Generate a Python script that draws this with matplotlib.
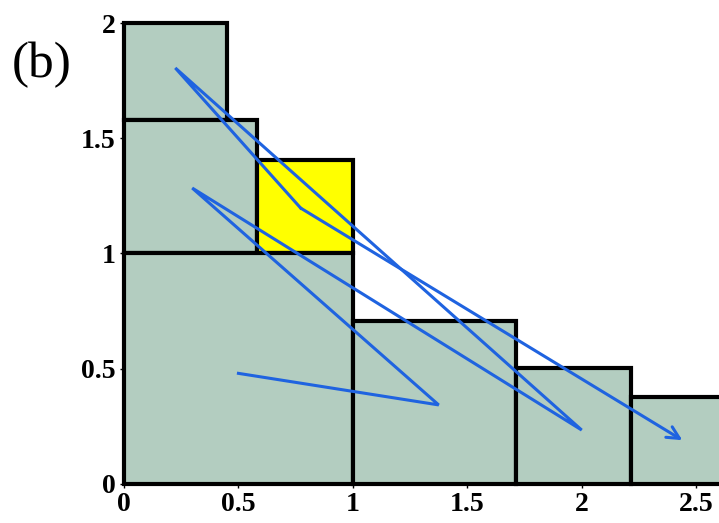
import matplotlib
matplotlib.use('Agg')
import matplotlib.pyplot as plt
from matplotlib.patches import Rectangle

# boxes: (x0, y0, width, height, colour)
box_x = [0.0, 0.0, 0.583, 0.0, 1.0, 1.715, 2.215]
box_y = [1.58, 1.0, 1.0, 0.0, 0.0, 0.0, 0.0]
box_w = [0.45, 0.583, 0.417, 1.0, 0.715, 0.5, 0.4]
box_h = [0.42, 0.58, 0.405, 1.0, 0.705, 0.503, 0.377]
box_c = ['#b3cdc0', '#b3cdc0', '#ffff00', '#b3cdc0', '#b3cdc0', '#b3cdc0', '#b3cdc0']

# blue path
path_x = [0.5, 1.375, 0.298, 2.0, 0.224, 0.772, 2.44]
path_y = [0.48, 0.343, 1.284, 0.234, 1.805, 1.197, 0.19]

xticks = [0, 0.5, 1, 1.5, 2, 2.5]
yticks = [0, 0.5, 1, 1.5, 2]

fig = plt.figure(figsize=(7.19, 5.23), dpi=100)
ax = fig.add_axes([0.1725, 0.0746, 0.8275, 0.8814])

for x0, y0, w, h, c in zip(box_x, box_y, box_w, box_h, box_c):
    ax.add_patch(Rectangle((x0, y0), w, h, facecolor=c, edgecolor='black',
                           linewidth=3, clip_on=False))

blue = '#1f63e0'
ax.plot(path_x[:-1], path_y[:-1], color=blue, lw=2.2, solid_joinstyle='miter', clip_on=False)
ax.annotate('', xy=(path_x[-1], path_y[-1]), xytext=(path_x[-2], path_y[-2]),
            arrowprops=dict(arrowstyle='->', color=blue, lw=2.2, mutation_scale=22,
                            shrinkA=0, shrinkB=0))

ax.set_xlim(0, 2.6)
ax.set_ylim(0, 2.0)
for s in ax.spines.values():
    s.set_visible(False)
ax.set_xticks(xticks)
ax.set_xticklabels(['0', '0.5', '1', '1.5', '2', '2.5'])
ax.set_yticks(yticks)
ax.set_yticklabels(['0', '0.5', '1', '1.5', '2'])
ax.tick_params(axis='both', length=3, width=1, labelsize=20, pad=3)
for lab in ax.get_xticklabels() + ax.get_yticklabels():
    lab.set_fontfamily('Liberation Serif')
    lab.set_fontweight('bold')

fig.text(0.058, 0.875, '(b)', fontsize=37, family='Liberation Serif', ha='center', va='center')

plt.savefig('out.png', dpi=100)
